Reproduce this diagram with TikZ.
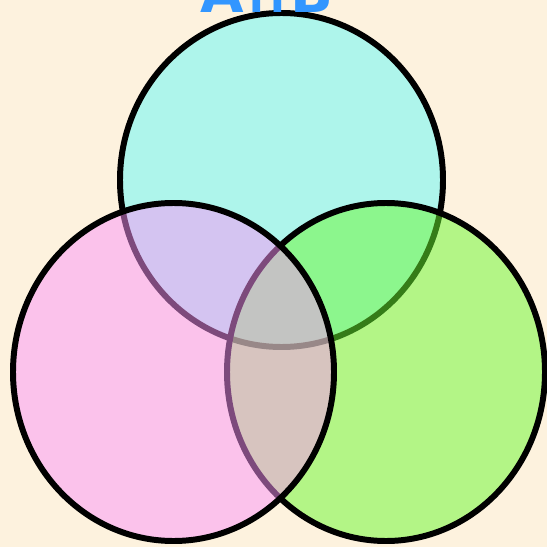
\documentclass[tikz,border=0pt]{standalone}
\usepackage{fontspec}
\setsansfont{DejaVu Sans}
\usepackage{tikz}
\usetikzlibrary{positioning}
\definecolor{cream}{RGB}{253,242,222}
\definecolor{setcyan}{RGB}{97,248,248}
\definecolor{setpink}{RGB}{251,148,248}
\definecolor{setgreen}{RGB}{107,248,48}
\definecolor{titleblue}{RGB}{50,150,255}
\begin{document}
\begin{tikzpicture}[x=0.02cm,y=-0.02cm,
  setcircle/.style={draw=black,line width=3.4pt,fill opacity=0.5},
  title/.style={font=\sffamily\bfseries\fontsize{32}{32}\selectfont,
                color=titleblue,anchor=base,inner sep=0pt}]
\useasboundingbox (0,0) rectangle (547,547);
\clip (0,0) rectangle (547,547);
\fill[cream] (0,0) rectangle (547,547);
% three sets, drawn back to front
\draw[setcircle,fill=setcyan]  (281.5,180) ellipse [x radius=161.5,y radius=167];
\draw[setcircle,fill=setgreen] (386,372)   ellipse [x radius=159,y radius=169];
\draw[setcircle,fill=setpink]  (173.5,372) ellipse [x radius=160.5,y radius=169];
\node[title] (label) at (267,13) {A∩B};
\end{tikzpicture}
\end{document}
